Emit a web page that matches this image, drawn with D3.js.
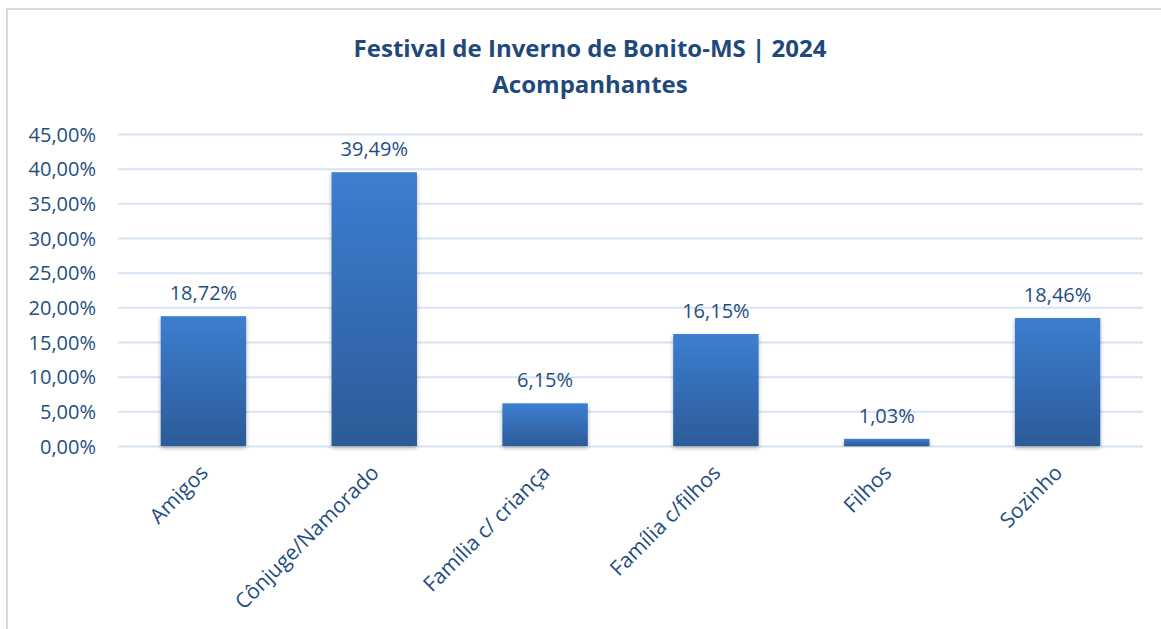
<!DOCTYPE html>
<html>
<head>
  <meta charset="utf-8">
  <title>Festival de Inverno de Bonito-MS 2024</title>
  <script src="https://d3js.org/d3.v7.min.js"></script>
  <style>
    body { margin: 0; background: #fff; }
    text { font-family: "Open Sans", "Noto Sans", sans-serif; fill: #1f4e82; }
  </style>
</head>
<body>
<script>
// dados do gráfico
var categorias = ["Amigos", "Cônjuge/Namorado", "Família c/ criança", "Família c/filhos", "Filhos", "Sozinho"];
var valores = [18.72, 39.49, 6.15, 16.15, 1.03, 18.46];
var yTicks = [0, 5, 10, 15, 20, 25, 30, 35, 40, 45];
var titulo = ["Festival de Inverno de Bonito-MS | 2024", "Acompanhantes"];

var width = 1161, height = 629;
var plotLeft = 118, plotRight = 1143, plotTop = 134, plotBottom = 446;

var fmt = function(v) { return v.toFixed(2).replace(".", ",") + "%"; };

var svg = d3.select("body").append("svg").attr("width", width).attr("height", height);

// gradiente das barras
var defs = svg.append("defs");
var grad = defs.append("linearGradient").attr("id", "barGrad")
  .attr("x1", 0).attr("y1", 0).attr("x2", 0).attr("y2", 1);
grad.append("stop").attr("offset", "0%").attr("stop-color", "#3c7ed0");
grad.append("stop").attr("offset", "100%").attr("stop-color", "#2c5b98");
var shadow = defs.append("filter").attr("id", "sombra")
  .attr("x", "-20%").attr("y", "-5%").attr("width", "140%").attr("height", "115%");
shadow.append("feDropShadow").attr("dx", 0).attr("dy", 2).attr("stdDeviation", 2)
  .attr("flood-color", "#000").attr("flood-opacity", 0.3);

// borda do gráfico
svg.append("path")
  .attr("d", "M7," + height + "V9H" + width)
  .attr("fill", "none").attr("stroke", "#d9d9d9").attr("stroke-width", 2);

// título
svg.append("g").selectAll("text")
  .data(titulo)
  .enter().append("text")
  .attr("x", 590)
  .attr("y", function(d, i) { return 57 + i * 36; })
  .attr("text-anchor", "middle")
  .attr("font-size", "24px")
  .attr("font-weight", "bold")
  .style("fill", "#1f497d")
  .text(function(d) { return d; });

// escalas
var xScale = d3.scaleBand()
  .domain(categorias)
  .range([plotLeft, plotRight])
  .paddingInner(0.5)
  .paddingOuter(0.25);

var yScale = d3.scaleLinear()
  .domain([0, 45])
  .range([plotBottom, plotTop]);

// eixo y com linhas de grade
var yAxis = svg.append("g")
  .attr("transform", "translate(" + plotLeft + ",0)")
  .call(d3.axisLeft(yScale).tickValues(yTicks).tickSize(-(plotRight - plotLeft)).tickPadding(22).tickFormat(fmt));
yAxis.select(".domain").remove();
yAxis.selectAll("line").attr("stroke", "#d6e3f3").attr("stroke-width", 2);
yAxis.selectAll("text").attr("font-size", "20px").attr("fill", "#1f4e82").attr("dy", "0.35em");

// barras
var dados = categorias.map(function(c, i) { return { nome: c, valor: valores[i] }; });

svg.append("g")
  .selectAll("rect")
  .data(dados)
  .enter()
  .append("rect")
  .attr("x", function(d) { return xScale(d.nome); })
  .attr("y", function(d) { return yScale(d.valor); })
  .attr("width", xScale.bandwidth())
  .attr("height", function(d) { return plotBottom - yScale(d.valor); })
  .attr("fill", "url(#barGrad)")
  .attr("filter", "url(#sombra)");

// rótulos de valores
svg.append("g")
  .selectAll("text")
  .data(dados)
  .enter()
  .append("text")
  .attr("x", function(d) { return xScale(d.nome) + xScale.bandwidth() / 2; })
  .attr("y", function(d) { return yScale(d.valor) - 16; })
  .attr("text-anchor", "middle")
  .attr("font-size", "20px")
  .text(function(d) { return fmt(d.valor); });

// eixo x
var xAxis = svg.append("g")
  .attr("transform", "translate(0," + plotBottom + ")")
  .call(d3.axisBottom(xScale).tickSize(0).tickPadding(0));
xAxis.select(".domain").remove();
xAxis.selectAll("text")
  .attr("font-size", "21px")
  .attr("fill", "#1f4e82")
  .attr("text-anchor", "end")
  .attr("dy", null)
  .attr("transform", "translate(6,28) rotate(-45)");
</script>
</body>
</html>
